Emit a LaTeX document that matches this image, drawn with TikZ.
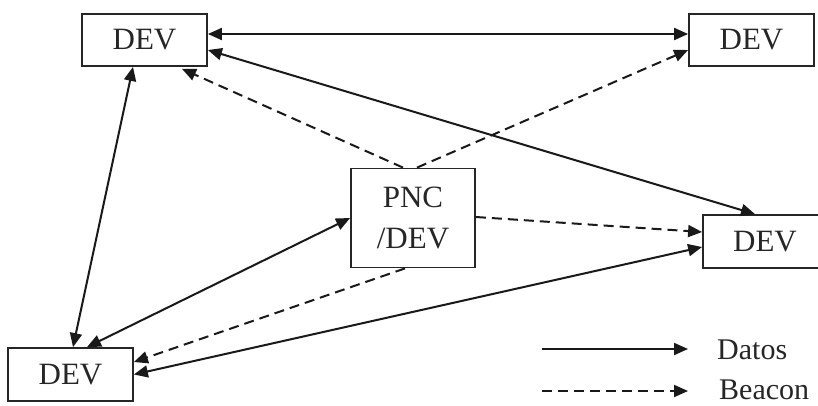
\documentclass[tikz,border=0pt]{standalone}
\usepackage{fontspec}
\setmainfont{Liberation Serif}
\usetikzlibrary{arrows.meta}
\tikzset{
  devbox/.style={draw=black!85, line width=1.8pt, inner sep=0pt,
    font=\fontsize{31}{41}\selectfont, text=black!85},
  tip/.style={},
  link/.style={line width=2pt, draw=black!90,
    arrows={Triangle[length=14pt,width=12pt]-Triangle[length=14pt,width=12pt]}},
  oneway/.style={line width=2pt, draw=black!90, -{Triangle[length=14pt,width=12pt]}},
  beacon/.style={oneway, dash pattern=on 10pt off 6pt},
  legendtext/.style={anchor=west, inner sep=0pt, font=\fontsize{30}{34}\selectfont, text=black!85}
}
\begin{document}
\begin{tikzpicture}[x=1pt,y=-1pt]
  \useasboundingbox (0,0) rectangle (818,405);

  % devices
  \node[devbox, minimum width=125pt, minimum height=52pt] (tl) at (144.5,40) {DEV};
  \node[devbox, minimum width=125pt, minimum height=52pt] (tr) at (751.5,40) {DEV};
  \node[devbox, minimum width=124pt, minimum height=99pt, align=center] (pnc) at (413,218) {PNC\\/DEV};
  \node[devbox, minimum width=124pt, minimum height=53pt] (r) at (765,241.5) {DEV};
  \node[devbox, minimum width=125pt, minimum height=53pt] (bl) at (70.5,374.5) {DEV};

  % data links
  \draw[link] ([yshift=6pt]tl.east) -- ([yshift=6pt]tr.west);
  \draw[link] ([yshift=-10pt]tl.east) -- ([xshift=-10pt]r.north);
  \draw[link] ([xshift=-11.5pt]tl.south) -- ([xshift=2.5pt]bl.north);
  \draw[link] (pnc.west) -- ([xshift=16.5pt]bl.north);
  \draw[link] (bl.east) -- ([yshift=-5.5pt]r.west);

  % beacons from the coordinator
  \draw[beacon] ([xshift=-10pt]pnc.north) -- ([xshift=37.5pt,yshift=-2pt]tl.south);
  \draw[beacon] ([xshift=4pt]pnc.north) -- ([yshift=-10pt]tr.west);
  \draw[beacon] ([yshift=1pt]pnc.east) -- ([yshift=9.5pt]r.west);
  \draw[beacon] ([xshift=-8pt]pnc.south) -- ([yshift=12.5pt]bl.east);

  % legend
  \coordinate (d0) at (542,349);
  \coordinate (d1) at (688,349);
  \coordinate (b0) at (542,391);
  \coordinate (b1) at (688,391);
  \draw[oneway] (d0) -- (d1);
  \draw[beacon] (b0) -- (b1);
  \node[legendtext] (dl) at (717,350) {Datos};
  \node[legendtext] (bl2) at (719,390) {Beacon};
\end{tikzpicture}
\end{document}
